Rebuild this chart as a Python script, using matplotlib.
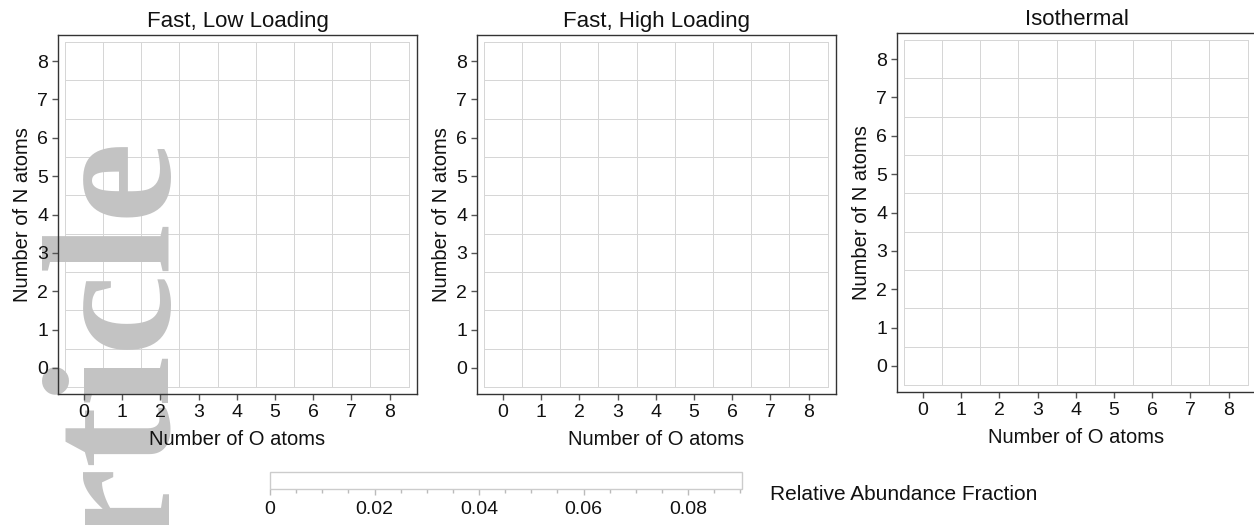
"""Relative abundance of N/O-containing species, three loading conditions."""
import numpy as np
import matplotlib
matplotlib.use("Agg")
import matplotlib.pyplot as plt
from matplotlib.colors import ListedColormap, Normalize
from matplotlib.ticker import MultipleLocator, FixedLocator

plt.rcParams["font.family"] = ["Liberation Sans", "DejaVu Sans"]

# ── data ────────────────────────────────────────────────────────────────
O_ATOMS = np.arange(9)          # x categories
N_ATOMS = np.arange(9)          # y categories
TITLES = ["Fast, Low Loading", "Fast, High Loading", "Isothermal"]

# relative abundance fraction per (N, O) cell -- every cell reads blank
ABUND_FAST_LOW = np.zeros((9, 9))
ABUND_FAST_HIGH = np.zeros((9, 9))
ABUND_ISOTHERMAL = np.zeros((9, 9))

CBAR_MAX = 0.0903
CBAR_TICKS = [0, 0.02, 0.04, 0.06, 0.08]
CBAR_LABELS = ["0", "0.02", "0.04", "0.06", "0.08"]

# ── figure ──────────────────────────────────────────────────────────────
W, H = 1254, 525
fig = plt.figure(figsize=(W / 100, H / 100), dpi=100)

cmap = ListedColormap(["white"])
norm = Normalize(0, CBAR_MAX)

lefts = [58, 477, 897]
tops = [35, 35, 33]
size = 359
edges = np.arange(-0.5, 9.0, 1.0)
spine_c = "#333333"

axes = []
mesh = None
for left, top, title, data in zip(lefts, tops, TITLES,
                                  [ABUND_FAST_LOW, ABUND_FAST_HIGH, ABUND_ISOTHERMAL]):
    ax = fig.add_axes([left / W, 1 - (top + size) / H, size / W, size / H])
    mesh = ax.pcolormesh(edges, edges, data, cmap=cmap, norm=norm,
                         edgecolors="#d6d6d6", linewidth=0.55)
    ax.set_xlim(-0.68, 8.72)
    ax.set_ylim(-0.68, 8.68)
    ax.set_xticks(O_ATOMS)
    ax.set_yticks(N_ATOMS)
    ax.tick_params(direction="out", length=4, width=1, color="#555555",
                   labelsize=14, pad=3, labelcolor="#111111")
    for s in ax.spines.values():
        s.set_color(spine_c)
        s.set_linewidth(1.0)
    ax.set_title(title, fontsize=16, pad=6, color="#111111")
    ax.set_xlabel("Number of O atoms", fontsize=14.5, labelpad=7, color="#111111")
    ax.set_ylabel("Number of N atoms", fontsize=14.5, labelpad=4, color="#111111")
    axes.append(ax)

# watermark (sits above the cells but beneath the axis lines and labels)
axes[0].text(168 / W, 1 - 139 / H, "Article", transform=fig.transFigure,
             rotation=90, rotation_mode="anchor", ha="right", va="baseline",
             fontsize=132, fontweight="bold", color="#c3c3c3",
             family=["Liberation Serif", "DejaVu Serif"],
             clip_on=False, zorder=1.5)

# ── colorbar ────────────────────────────────────────────────────────────
cax = fig.add_axes([270 / W, 1 - 489 / H, 472 / W, 17 / H])
cb = fig.colorbar(mesh, cax=cax, orientation="horizontal")
cb.outline.set_edgecolor("#cccccc")
cb.outline.set_linewidth(1.0)
cax.xaxis.set_major_locator(FixedLocator(CBAR_TICKS))
cax.xaxis.set_minor_locator(MultipleLocator(0.005))
cax.set_xticklabels(CBAR_LABELS)
cax.tick_params(which="both", direction="out", color="#bbbbbb", width=1,
                labelsize=14, pad=5, labelcolor="#111111")
cax.tick_params(which="major", length=4)
cax.tick_params(which="minor", length=3)
for lab in cax.get_xticklabels():
    lab.set_family(["Liberation Sans Narrow", "Liberation Sans"])
fig.text(770 / W, 1 - 495 / H, "Relative Abundance Fraction",
         fontsize=15, va="center", ha="left", color="#111111",
         family=["Liberation Sans Narrow", "Liberation Sans"])

fig.savefig("out.png", dpi=100)
